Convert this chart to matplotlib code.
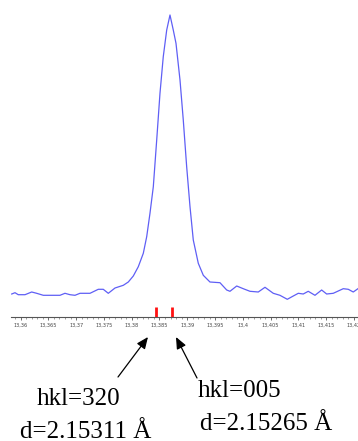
import numpy as np
import matplotlib
matplotlib.use("Agg")
import matplotlib.pyplot as plt
from matplotlib.ticker import MultipleLocator, FuncFormatter

# profile (2theta-like axis, arbitrary intensity)
pos = [13.35842, 13.35901, 13.35960, 13.36081, 13.36201, 13.36291, 13.36410,
       13.36710, 13.36800, 13.36890, 13.36980, 13.37070, 13.37250, 13.37399,
       13.37489, 13.37579, 13.37700, 13.37849, 13.37939, 13.38029, 13.38119,
       13.38209, 13.38270, 13.38329, 13.38389, 13.38450, 13.38509, 13.38568,
       13.38630, 13.38689, 13.38748, 13.38797, 13.38869, 13.38928, 13.38989,
       13.39049, 13.39108, 13.39198, 13.39288, 13.39408, 13.39588, 13.39709,
       13.39768, 13.39889, 13.40007, 13.40128, 13.40277, 13.40398, 13.40547,
       13.40667, 13.40799, 13.40907, 13.40997, 13.41086, 13.41176, 13.41297,
       13.41417, 13.41507, 13.41626, 13.41806, 13.41896, 13.41986, 13.42070]
intens = [23.3, 24.6, 22.6, 22.6, 25.3, 24.0, 22.0,
          22.0, 24.0, 22.6, 22.0, 24.0, 24.0, 28.0,
          28.0, 24.0, 29.3, 32.0, 35.3, 41.3, 50.6,
          64.0, 80.6, 104.0, 130.6, 177.3, 224.0, 260.6,
          287.3, 302.3, 287.3, 274.0, 237.3, 197.3, 150.6,
          110.6, 77.3, 54.0, 42.0, 35.3, 34.6, 27.3,
          26.0, 31.3, 28.6, 26.0, 25.3, 30.0, 24.0,
          22.0, 18.0, 21.3, 24.0, 23.3, 26.0, 22.0,
          27.3, 23.3, 24.0, 28.6, 28.0, 25.3, 28.6]

refl_pos = [13.3844, 13.3873]
refl_labels = [("hkl=320", "d=2.15311 \u00c5"), ("hkl=005", "d=2.15265 \u00c5")]

W, H = 358, 441
fig = plt.figure(figsize=(W / 100, H / 100), dpi=100)
ax_bottom = 317.3
ax = fig.add_axes([11 / W, 1 - ax_bottom / H, 1 - 11 / W, ax_bottom / H])

ax.plot(pos, intens, color="#5f5ff5", lw=0.9)
ax.vlines(refl_pos, 0, 10.6, color="#ff1010", lw=2)

ax.set_xlim(13.35829, 13.42071)
ax.set_ylim(0, ax_bottom)
for s in ["left", "top", "right"]:
    ax.spines[s].set_visible(False)
ax.spines["bottom"].set_color("#555555")
ax.spines["bottom"].set_linewidth(0.8)
ax.set_yticks([])

ax.xaxis.set_major_locator(MultipleLocator(0.005))
ax.xaxis.set_minor_locator(MultipleLocator(0.001))
ax.xaxis.set_major_formatter(FuncFormatter(
    lambda v, p: f"{v:.3f}".rstrip("0").rstrip(".").replace(".", ",")))
ax.tick_params(axis="x", which="major", length=2, width=0.6, color="#555555",
               labelsize=3.6, labelcolor="#444444", pad=2)
ax.tick_params(axis="x", which="minor", length=1.2, width=0.5, color="#777777")

# arrows pointing at the reflections
tips = [(13.38293, -19.7), (13.38797, -19.7)]
tails = [(13.37754, -59.7), (13.39175, -60.7)]
for tip, tail in zip(tips, tails):
    ax.annotate("", xy=tip, xytext=tail, annotation_clip=False,
                arrowprops=dict(arrowstyle="-|>,head_length=0.7,head_width=0.3",
                                color="black", lw=0.9, shrinkA=0, shrinkB=0))

serif = ["Liberation Serif", "DejaVu Serif"]
txt_pos = [[(36.7, 405), (20, 438)], [(198, 397), (200, 430)]]
for lines, pts in zip(refl_labels, txt_pos):
    for t, (px, py) in zip(lines, pts):
        fig.text(px / W, 1 - py / H, t, family=serif, fontsize=18,
                 ha="left", va="baseline")

fig.savefig("out.png", dpi=100)
